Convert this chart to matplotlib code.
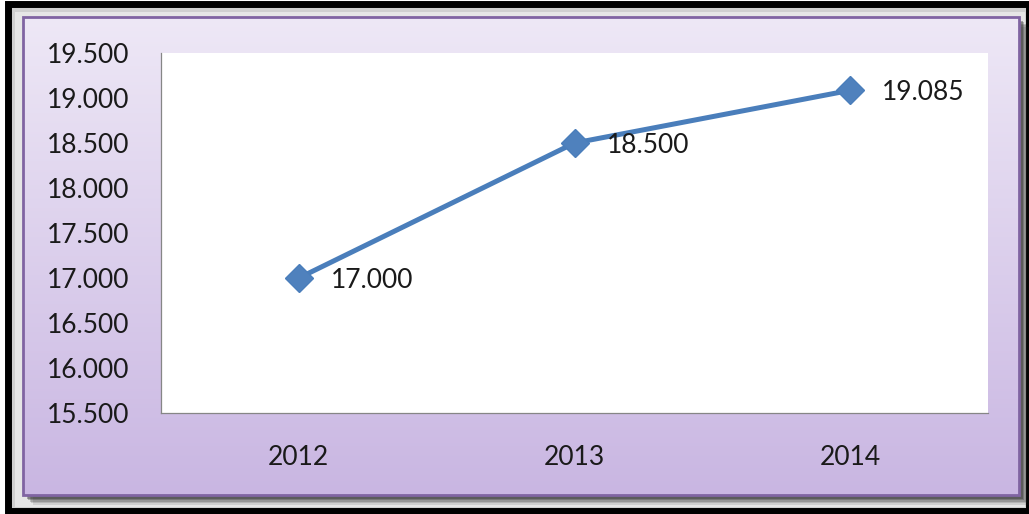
# -*- coding: utf-8 -*-
"""
Evolucion anual 2012-2014, grafico de linea con marcadores.
"""

import numpy as np
import matplotlib
matplotlib.use("Agg")
import matplotlib.pyplot as plt
from matplotlib.patches import Rectangle
from matplotlib.ticker import FuncFormatter, MultipleLocator

# Datos
anios = ["2012", "2013", "2014"]
valores = [17000, 18500, 19085]

plt.rcParams['font.family'] = ['Lato', 'DejaVu Sans']

W, H = 1029, 514
fig = plt.figure(figsize=(W / 100, H / 100), dpi=100)
fig.patch.set_facecolor("white")

################################################## Fondo (marco negro + caja morada)
bg = fig.add_axes([0, 0, 1, 1], zorder=0)
bg.set_xlim(0, W)
bg.set_ylim(H, 0)
bg.axis("off")

# marco negro exterior y relleno gris claro
bg.add_patch(Rectangle((8, 4), 1021, 507, facecolor="#d0d0d0", edgecolor="none"))
bg.add_patch(Rectangle((15, 12), 1010, 495, facecolor="#e6e6e6", edgecolor="none"))
bg.add_patch(Rectangle((8, 4), 1021, 507, facecolor="none", edgecolor="black", lw=5))

# sombra de la caja
for k, a in enumerate([0.12, 0.16, 0.22, 0.28, 0.36]):
    d = 10 - k * 1.6
    bg.add_patch(Rectangle((23 + d, 17 + d), 996, 478, facecolor="#2a2a2a",
                           edgecolor="none", alpha=a))

# degradado morado
grad = np.linspace(0, 1, 256).reshape(-1, 1)
c_top = np.array([0xee, 0xe8, 0xf6]) / 255
c_bot = np.array([0xc9, 0xb6, 0xe2]) / 255
img = c_top[None, None, :] * (1 - grad[..., None]) + c_bot[None, None, :] * grad[..., None]
bg.imshow(img, extent=(23, 1019, 495, 17), aspect="auto", interpolation="bilinear", zorder=2)
bg.add_patch(Rectangle((23, 17), 996, 478, facecolor="none", edgecolor="#8064a2",
                       lw=2, zorder=3))
bg.set_xlim(0, W)
bg.set_ylim(H, 0)

################################################## Grafico
x0, x1, y0, y1 = 161, 988, 53, 413
ax = fig.add_axes([x0 / W, 1 - y1 / H, (x1 - x0) / W, (y1 - y0) / H], zorder=1)
ax.set_facecolor("white")

pos = np.arange(len(anios))
ax.plot(pos, valores, color="#4a7ebb", lw=3.6, marker="D", ms=14,
        markeredgecolor="#4a7ebb", markerfacecolor="#4f81bd", solid_joinstyle="round")

for xi, v in zip(pos, valores):
    ax.annotate(f"{v:,.0f}".replace(",", "."), (xi, v), xytext=(23, -1.5),
                textcoords="offset points", ha="left", va="center",
                fontsize=19, color="#1a1a1a")

ax.set_xlim(-0.5, len(anios) - 0.5)
ax.set_ylim(15500, 19500)
ax.yaxis.set_major_locator(MultipleLocator(500))
ax.yaxis.set_major_formatter(FuncFormatter(lambda v, p: f"{v:,.0f}".replace(",", ".")))
ax.set_xticks(pos)
ax.set_xticklabels(anios)

for s in ["top", "right"]:
    ax.spines[s].set_visible(False)
for s in ["left", "bottom"]:
    ax.spines[s].set_color("#868686")
    ax.spines[s].set_linewidth(0.9)

ax.tick_params(axis="y", length=0, pad=23, labelsize=19, labelcolor="#1a1a1a")
ax.tick_params(axis="x", length=0, pad=23, labelsize=19, labelcolor="#1a1a1a")

fig.savefig("out.png", dpi=100)
